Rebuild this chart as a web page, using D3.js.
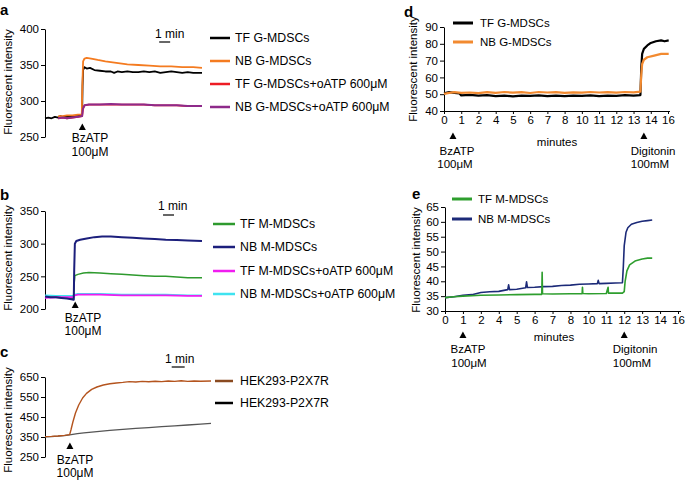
<!DOCTYPE html>
<html><head><meta charset="utf-8">
<script src="https://cdn.jsdelivr.net/npm/d3@7/dist/d3.min.js"></script>
<style>body{margin:0;background:#fff}svg{font-family:"Liberation Sans",Arial,Helvetica,sans-serif}</style>
</head><body><svg id="fig" width="685" height="480"></svg>
<script>
// ---------- DATA ----------
// panel a (x: minutes, y: fluorescent intensity)
const aTicks = [250, 300, 350, 400];
const aLabels = ["TF G-MDSCs", "NB G-MDSCs", "TF G-MDSCs+oATP 600μM", "NB G-MDSCs+oATP 600μM"];
const aTF = [[0,276],[0.3,277],[0.6,276],[0.9,278],[1.2,277],[1.4,279],[1.6,278],[2,278],[2.5,279],[3,279],[3.38,280],[3.42,320],[3.47,343],[3.6,347],[3.8,345],[4.1,346],[4.5,343],[5,342],[5.5,341],[6,341],[6.3,339],[6.6,341],[7,340],[7.5,341],[8,340],[8.5,340],[9,341],[9.5,340],[10,341],[10.5,339],[11,340],[11.5,341],[12,340],[12.5,339],[13,340],[13.5,339],[14.3,339]];
const aNB = [[1.2,279],[1.6,279],[2,280],[2.5,280],[3,281],[3.35,281],[3.4,320],[3.47,355],[3.6,359],[3.8,360],[4.2,359],[4.8,357],[5.5,355],[6.5,353],[7.5,351],[8.5,350],[9.5,349],[10.5,348],[11.5,348],[12.5,347],[13.5,347],[14.3,346]];
const aTFo = [[1.2,276],[1.6,277],[2,276],[2.5,277],[3,278],[3.38,279],[3.45,289],[3.6,294],[4,295],[5,295],[6,295],[7,295],[8,295],[9,295],[10,294],[11,294],[12,294],[13,293],[14.3,293]];
const aNBo = [[1.2,276],[1.6,277],[2,276],[2.5,277],[3,278],[3.38,279],[3.45,289],[3.6,294],[4,295],[5,295],[6,296],[7,295],[8,295],[9,295],[10,294],[11,294],[12,294],[13,293],[14.3,293]];

// panel b
const bTicks = [200, 250, 300, 350];
const bLabels = ["TF M-MDSCs", "NB M-MDSCs", "TF M-MDSCs+oATP 600μM", "NB M-MDSCs+oATP 600μM"];
const bTF = [[0,218],[1,218],[2,217],[2.6,216],[2.66,240],[2.72,251],[3,253],[3.5,255],[4,256],[5,255],[6,254],[7,253],[8,252],[9,251],[10,250],[11,250],[12,249],[13,248],[14.3,248]];
const bNB = [[0,219],[0.5,218],[1,218],[1.5,217],[2,216],[2.4,215],[2.62,214],[2.66,260],[2.72,300],[2.85,304],[3.2,306],[3.8,308],[4.5,310],[5.2,311],[6,311],[7,310],[8,309],[9,308],[10,307],[11,306],[12,305.5],[13,305],[14.3,304]];
const bTFo = [[0,217],[1,218],[2,218],[2.6,218],[2.7,221],[3,222],[5,222],[7,221],[9,221],[11,221],[13,220],[14.3,220]];
const bNBo = [[0,221],[1,220],[2,220],[2.6,220],[2.7,222],[3,223],[5,223],[7,222],[9,222],[11,222],[13,221],[14.3,221]];

// panel c
const cTicks = [250, 350, 450, 550, 650];
const cLabels = ["HEK293-P2X7R", "HEK293-P2X7R"];
const cA = [[0,352],[0.5,353],[1,355],[1.5,358],[1.9,362],[2.0,385],[2.15,425],[2.35,470],[2.6,510],[2.9,545],[3.2,568],[3.6,588],[4,600],[4.5,610],[5,616],[5.5,620],[6,623],[6.5,627],[7,625],[7.5,628],[8,626],[8.5,629],[9,627],[9.5,630],[10,628],[10.5,631],[11,628],[11.5,630],[12,629],[12.8,630]];
const cB = [[0,351],[0.5,352],[1,354],[1.5,357],[1.9,361],[2.5,367],[3,371],[4,377],[5,383],[6,388],[7,393],[8,397],[9,402],[10,406],[11,410],[12,414],[12.8,418]];

// panels d, e (x: position on the minutes axis, ticks evenly spaced)
const minuteLabels = ["0","1","2","4","5","6","7","8","10","11","12","13","14","16"];
const dTicks = [40, 50, 60, 70, 80, 90];
const eTicks = [30, 35, 40, 45, 50, 55, 60, 65];
const dLabels = ["TF G-MDSCs", "NB G-MDSCs"];
const eLabels = ["TF M-MDSCs", "NB M-MDSCs"];
const dTF = [[0,50.5],[0.3,51.2],[0.6,50.8],[0.9,50.4],[1.0,49.3],[1.5,49.6],[2,49.1],[2.5,49.4],[3,48.8],[3.5,49.2],[4,48.7],[4.5,49.1],[5,49],[5.5,49.3],[6,48.9],[6.5,49.2],[7,48.8],[7.5,49.1],[8,49],[8.5,49.3],[9,48.9],[9.5,49.2],[10,49],[10.5,49.4],[11,49.2],[11.4,49.5],[11.45,66],[11.5,74],[11.6,77],[11.8,79],[12.0,80.5],[12.3,81.5],[12.6,82],[12.8,81.5],[13.04,82]];
const dNB = [[0,50.2],[0.3,50.8],[0.6,51.2],[1,50.8],[1.5,51],[2,50.6],[2.5,51.2],[3,50.8],[3.5,51.3],[4,50.9],[4.5,51.2],[5,50.7],[5.5,51.3],[6,51],[6.5,51.2],[7,50.8],[7.5,51.1],[8,50.9],[8.5,51.3],[9,51],[9.5,51.2],[10,50.9],[10.5,51.3],[11,51.1],[11.4,51.5],[11.45,62],[11.5,68],[11.6,70.5],[11.8,72],[12.2,73],[12.6,74],[13.04,74]];
const eTF = [[0,34.5],[0.5,34.8],[1,35],[2,35.3],[3,35.4],[4,35.5],[5,35.6],[5.4,35.6],[5.42,43],[5.44,35.8],[6,35.7],[7,35.8],[7.65,35.8],[7.67,38],[7.69,35.9],[8,35.8],[9,35.9],[9.1,38],[9.12,36],[9.9,36],[10.0,36.5],[10.05,40],[10.15,43.5],[10.3,45.5],[10.6,46.8],[11,47.5],[11.3,47.8],[11.56,47.8]];
const eNB = [[0,34.5],[0.5,34.8],[1,35.3],[1.5,35.5],[2,36.2],[2.5,36.5],[3,36.6],[3.5,37.2],[3.55,38.8],[3.6,37.2],[4,37.3],[4.5,37.8],[4.55,39.8],[4.6,37.9],[5,38],[5.5,38.2],[6,38.3],[6.5,38.6],[7,38.7],[7.5,39],[8,39.1],[8.5,39.2],[8.55,40.3],[8.6,39.2],[9,39.3],[9.5,39.4],[9.9,39.5],[9.95,45],[10.0,52],[10.1,56.5],[10.2,58],[10.4,59.2],[10.7,59.8],[11,60.2],[11.3,60.4],[11.56,60.6]];

// ---------- DRAW ----------
const svg = d3.select("#fig");
const FS = "11.5px";

function label(x, y, t, opts = {}) {
  return svg.append("text").attr("x", x).attr("y", y).text(t)
    .attr("font-size", opts.size || FS).attr("font-weight", opts.bold ? "bold" : null)
    .attr("text-anchor", opts.anchor || "start").attr("fill", "#000");
}
function ylab(x, y) {
  svg.append("text").attr("transform", `translate(${x},${y}) rotate(-90)`)
    .attr("text-anchor", "middle").attr("font-size", FS).text("Fluorescent intensity");
}
function styleAxis(g) {
  g.selectAll("text").attr("font-size", FS).attr("fill", "#000").attr("font-family", null);
  g.selectAll("line,path").attr("stroke", "#000");
  g.attr("font-family", null);
}
function yAxis(y, ticks, x0) {
  const g = svg.append("g").attr("transform", `translate(${x0},0)`)
    .call(d3.axisLeft(y).tickValues(ticks).tickSize(4).tickSizeOuter(0).tickPadding(2));
  styleAxis(g);
}
function arrow(x, yb) {
  svg.append("path").attr("d", `M${x-3.5},${yb}L${x+3.5},${yb}L${x},${yb-6.5}Z`).attr("fill", "#000");
}
function series(data, x, y, color, w) {
  svg.append("path").datum(data).attr("fill", "none").attr("stroke", color)
    .attr("stroke-width", w).attr("stroke-linejoin", "round")
    .attr("d", d3.line().x(d => x(d[0])).y(d => y(d[1])));
}
function legend(labels, colors, x1, x2, tx, ys, size, w) {
  labels.forEach((t, i) => {
    svg.append("line").attr("x1", x1).attr("x2", x2).attr("y1", ys[i]).attr("y2", ys[i])
      .attr("stroke", colors[i]).attr("stroke-width", w);
    label(tx, ys[i] + 4, t, {size});
  });
}
function scaleBar(x, yText, yBar, startMin, tx) {
  label(tx, yText, "1 min", {size: "12px"});
  svg.append("line").attr("x1", x(startMin)).attr("x2", x(startMin + 1))
    .attr("y1", yBar).attr("y2", yBar).attr("stroke", "#000").attr("stroke-width", 1.2);
}

// ---- panel a ----
{
  const x = d3.scaleLinear().domain([0, 14.3]).range([45, 202]);
  const y = d3.scaleLinear().domain([250, 400]).range([137, 29]);
  const cols = ["#000000", "#f47b20", "#ed1c24", "#8e2a8a"];
  label(0, 15, "a", {bold: true, size: "15px"});
  ylab(12, 82);
  yAxis(y, aTicks, 45);
  series(aTF, x, y, cols[0], 1.8);
  series(aTFo, x, y, cols[2], 1.8);
  series(aNB, x, y, cols[1], 1.8);
  series(aNBo, x, y, cols[3], 2);
  arrow(x(3.4), 130);
  label(90, 142, "BzATP", {anchor: "middle", size: "12px"});
  label(90, 156, "100μM", {anchor: "middle", size: "12px"});
  scaleBar(x, 38, 42, 10.4, 155);
  legend(aLabels, cols, 210, 230, 235, [38, 61, 84, 107], "12.3px", 2.5);
}
// ---- panel b ----
{
  const x = d3.scaleLinear().domain([0, 14.3]).range([45, 202]);
  const y = d3.scaleLinear().domain([200, 350]).range([309, 211]);
  const cols = ["#2e9a2e", "#1c1f7c", "#f01df0", "#3fe3f0"];
  label(0, 200, "b", {bold: true, size: "15px"});
  ylab(12, 258);
  yAxis(y, bTicks, 45);
  series(bNBo, x, y, cols[3], 1.8);
  series(bTF, x, y, cols[0], 1.5);
  series(bTFo, x, y, cols[2], 1.8);
  series(bNB, x, y, cols[1], 2);
  arrow(x(2.75), 308);
  label(83, 322, "BzATP", {anchor: "middle", size: "12px"});
  label(83, 335, "100μM", {anchor: "middle", size: "12px"});
  scaleBar(x, 210, 215, 10.75, 158);
  legend(bLabels, cols, 213, 235, 240, [224, 247, 271, 294], "12.3px", 2.5);
}
// ---- panel c ----
{
  const x = d3.scaleLinear().domain([0, 12.8]).range([45, 211]);
  const y = d3.scaleLinear().domain([250, 650]).range([457, 377]);
  const cols = ["#b4541e", "#3a3a3a"];
  label(0, 357, "c", {bold: true, size: "15px"});
  ylab(12, 420);
  yAxis(y, cTicks, 45);
  series(cB, x, y, "#555555", 1.3);
  series(cA, x, y, cols[0], 1.4);
  arrow(x(1.92), 449);
  label(75, 464, "BzATP", {anchor: "middle", size: "12px"});
  label(75, 477, "100μM", {anchor: "middle", size: "12px"});
  scaleBar(x, 363, 367, 9.77, 165);
  legend(cLabels, ["#8a4a20", "#000000"], 215, 233, 240, [381, 403], "12.3px", 2.5);
}
// ---- panel d ----
{
  const x = d3.scaleLinear().domain([0, 13]).range([444, 668]);
  const y = d3.scaleLinear().domain([40, 90]).range([111, 27]);
  const cols = ["#000000", "#f28a30"];
  label(404, 17, "d", {bold: true, size: "15px"});
  ylab(417, 69);
  yAxis(y, dTicks, 444);
  const g = svg.append("g").attr("transform", "translate(0,111)")
    .call(d3.axisBottom(x).tickValues(d3.range(14)).tickFormat(i => minuteLabels[i]).tickSize(3).tickSizeOuter(0).tickPadding(2));
  styleAxis(g);
  g.select(".domain").attr("d", "M444,0.5H670");
  series(dTF, x, y, cols[0], 2.2);
  series(dNB, x, y, cols[1], 2.2);
  label(557, 146, "minutes", {anchor: "middle"});
  arrow(x(0.52), 139);
  label(457, 155, "BzATP", {anchor: "middle"});
  label(455, 168, "100μM", {anchor: "middle"});
  arrow(x(11.6), 139);
  label(653, 155, "Digitonin", {anchor: "middle"});
  label(650, 168, "100mM", {anchor: "middle"});
  legend(dLabels, cols, 453, 473, 480, [23, 42], FS, 3);
}
// ---- panel e ----
{
  const x = d3.scaleLinear().domain([0, 13]).range([445, 678]);
  const y = d3.scaleLinear().domain([30, 65]).range([311, 207]);
  const cols = ["#2e9e2e", "#1c2a78"];
  label(412, 199, "e", {bold: true, size: "15px"});
  ylab(420, 260);
  yAxis(y, eTicks, 445);
  const g = svg.append("g").attr("transform", "translate(0,311)")
    .call(d3.axisBottom(x).tickValues(d3.range(14)).tickFormat(i => minuteLabels[i]).tickSize(3).tickSizeOuter(0).tickPadding(2));
  styleAxis(g);
  g.select(".domain").attr("d", "M445,0.5H681");
  series(eNB, x, y, cols[1], 1.6);
  series(eTF, x, y, cols[0], 1.6);
  label(554, 341, "minutes", {anchor: "middle"});
  arrow(x(1.0), 338);
  label(468, 353, "BzATP", {anchor: "middle"});
  label(469, 367, "100μM", {anchor: "middle"});
  arrow(x(10.0), 338);
  label(635, 353, "Digitonin", {anchor: "middle"});
  label(632, 367, "100mM", {anchor: "middle"});
  legend(eLabels, cols, 452, 472, 478, [199, 219], FS, 3);
}
</script></body></html>
